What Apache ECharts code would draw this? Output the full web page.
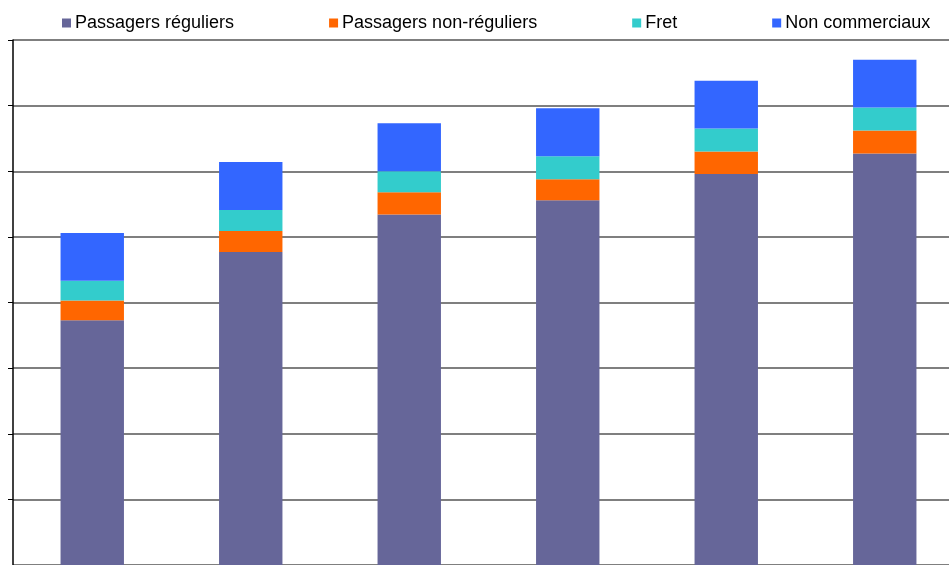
<!DOCTYPE html>
<html>
<head>
<meta charset="utf-8">
<script src="https://cdn.jsdelivr.net/npm/echarts@6/dist/echarts.min.js"></script>
<style>
  html, body { margin: 0; padding: 0; background: #fff; overflow: hidden; }
  /* the source picture is cropped on the right, so the chart is a bit wider than the window */
  #chart { width: 964px; height: 565px; }
</style>
</head>
<body>
<div id="chart"></div>
<script>
// axis labels are cut off in the source picture, categories are placeholders
const categories = ['2006', '2007', '2008', '2009', '2010', '2011'];

const passagersReguliers = [373, 477, 534, 556, 596, 627];
const passagersNonReguliers = [30, 32, 34, 32, 34, 35];
const fret = [30, 32, 32, 35, 35, 35];
const nonCommerciaux = [73, 73, 73, 73, 73, 73];

const chart = echarts.init(document.getElementById('chart'));

const makeSeries = (name, data, color) => ({
  name: name,
  type: 'bar',
  stack: 'total',
  barWidth: '40%',
  data: data,
  itemStyle: { color: color }
});

chart.setOption({
  animation: false,
  backgroundColor: '#fff',
  textStyle: { fontFamily: 'Liberation Sans, Arial, sans-serif' },
  legend: {
    left: 62,
    top: 14,
    padding: 0,
    itemGap: 95,
    itemWidth: 9,
    itemHeight: 9,
    icon: 'rect',
    textStyle: { fontSize: 18, color: '#000', padding: [0, 0, 0, -1] },
    data: ['Passagers réguliers', 'Passagers non-réguliers', 'Fret', 'Non commerciaux']
  },
  grid: {
    left: 13,
    right: 0,
    top: 40,
    bottom: 0,
    containLabel: false
  },
  xAxis: {
    type: 'category',
    data: categories,
    axisLine: { show: false },
    axisTick: { show: false },
    axisLabel: { show: false }
  },
  yAxis: {
    type: 'value',
    min: 0,
    max: 800,
    interval: 100,
    axisLine: { show: true, lineStyle: { color: '#000', width: 1.5 } },
    axisTick: { show: true, length: 5, lineStyle: { color: '#000' } },
    axisLabel: { show: false },
    splitLine: { lineStyle: { color: '#555', width: 1.5 } }
  },
  series: [
    makeSeries('Passagers réguliers', passagersReguliers, '#666699'),
    makeSeries('Passagers non-réguliers', passagersNonReguliers, '#FF6600'),
    makeSeries('Fret', fret, '#33CCCC'),
    makeSeries('Non commerciaux', nonCommerciaux, '#3366FF')
  ]
});

window.addEventListener('resize', () => chart.resize());
</script>
</body>
</html>
